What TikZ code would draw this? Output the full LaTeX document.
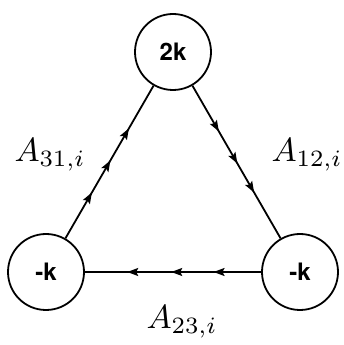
\documentclass[tikz,border=0pt]{standalone}
\usepackage{fontspec}
\setsansfont{TeX Gyre Heros}
\usetikzlibrary{decorations.markings,arrows.meta}
\tikzset{
  vertex/.style={circle,draw,line width=1.8pt,minimum size=76pt,inner sep=0pt,
    font=\sffamily\bfseries\fontsize{24}{24}\selectfont},
  flowthree/.style 2 args={line width=1.8pt,postaction={decorate},
    decoration={markings,
      mark=at position #1 with {\arrow{Stealth[length=11pt,width=8pt,inset=2pt]}},
      mark=at position 0.51 with {\arrow{Stealth[length=11pt,width=8pt,inset=2pt]}},
      mark=at position #2 with {\arrow{Stealth[length=11pt,width=8pt,inset=2pt]}}}},
  lab/.style={inner sep=0pt}
}
\newcommand{\biglab}[1]{\scalebox{3.35}{$#1$}}
\begin{document}
\begin{tikzpicture}[x=1pt,y=1pt]
\useasboundingbox (0,0) rectangle (344,345);
\node[vertex] (t) at (173,293) {2k};
\node[vertex] (l) at (46,73) {-k};
\node[vertex] (r) at (300,73) {-k};
\draw[flowthree={0.3}{0.72}] (l) -- (t);
\draw[flowthree={0.3}{0.7}] (t) -- (r);
\draw[flowthree={0.27}{0.76}] (r) -- (l);
\node[lab] (a31) at (50,190) {\biglab{A_{31,i}}};
\node[lab] (a12) at (307,190) {\biglab{A_{12,i}}};
\node[lab] (a23) at (182,23) {\biglab{A_{23,i}}};
\end{tikzpicture}
\end{document}
